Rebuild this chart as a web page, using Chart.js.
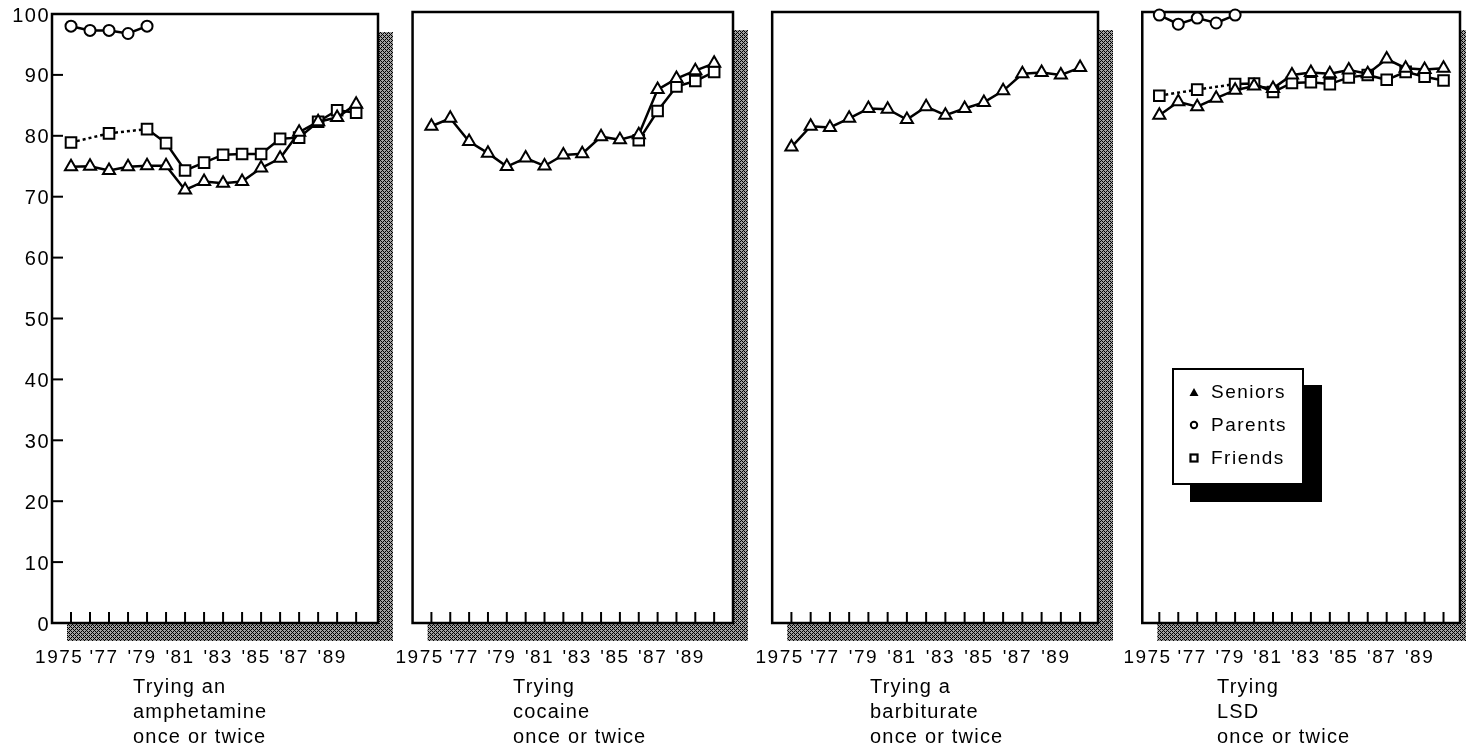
<!DOCTYPE html>
<html>
<head>
<meta charset="utf-8">
<script src="https://cdn.jsdelivr.net/npm/chart.js@4.4.1/dist/chart.umd.min.js"></script>
<style>
    body { margin: 0; background: #fff; width: 1466px; height: 750px; overflow: hidden; position: relative;
           font-family: "Liberation Sans", Arial, Helvetica, sans-serif; color: #000; }
    canvas { position: absolute; top: 0; }
    .caption { position: absolute; top: 674px; font-size: 20px; line-height: 25px; letter-spacing: 1.2px; white-space: nowrap; }
    .legend { position: absolute; left: 1172px; top: 368px; width: 128px; height: 113px; border: 2px solid #000;
              background: #fff; box-shadow: 18px 17px 0 #000; z-index: 5; }
    .legend div { position: absolute; left: 37px; font-size: 19px; letter-spacing: 1.5px; line-height: 22px; }
    .legend svg { position: absolute; left: 15px; }
</style>
</head>
<body>
<canvas id="amph" width="400" height="680" style="left:0px"></canvas>
<canvas id="coca" width="385" height="680" style="left:381px"></canvas>
<canvas id="barb" width="385" height="680" style="left:741px"></canvas>
<canvas id="lsd" width="361" height="680" style="left:1109px"></canvas>

<div class="legend">
    <svg width="10" height="10" style="top:17px"><polygon points="5,1 9.5,9 0.5,9" fill="#000"/></svg>
    <div style="top:11px">Seniors</div>
    <svg width="10" height="10" style="top:50px"><circle cx="5" cy="5" r="3.2" fill="#fff" stroke="#000" stroke-width="2"/></svg>
    <div style="top:44px">Parents</div>
    <svg width="10" height="10" style="top:83px"><rect x="1.5" y="1.5" width="7" height="7" fill="#fff" stroke="#000" stroke-width="2.2"/></svg>
    <div style="top:77px">Friends</div>
</div>

<script>
// Years on the x axis and y axis ticks
const years = [1975, 1976, 1977, 1978, 1979, 1980, 1981, 1982, 1983, 1984, 1985, 1986, 1987, 1988, 1989, 1990];
const yTicks = [0, 10, 20, 30, 40, 50, 60, 70, 80, 90, 100];

// Trying an amphetamine once or twice
const amphSeniors = [74.9, 75.0, 74.3, 74.9, 75.1, 75.1, 71.1, 72.5, 72.2, 72.5, 74.7, 76.3, 80.6, 82.3, 83.0, 85.2];
const amphParents = [98.0, 97.3, 97.3, 96.8, 98.0, null, null, null, null, null, null, null, null, null, null, null];
const amphFriends = [78.9, null, 80.4, null, 81.1, 78.8, 74.3, 75.6, 76.9, 77.0, 77.0, 79.5, 79.7, 82.3, 84.2, 83.8];

// Trying cocaine once or twice
const cocaSeniors = [81.3, 82.6, 78.8, 76.9, 74.7, 76.1, 74.8, 76.6, 76.8, 79.6, 79.1, 79.9, 87.3, 89.1, 90.4, 91.6];
const cocaFriends = [null, null, null, null, null, null, null, null, null, null, null, 79.0, 83.8, 87.8, 88.7, 90.2];

// Trying a barbiturate once or twice
const barbSeniors = [77.9, 81.3, 81.1, 82.6, 84.2, 84.1, 82.4, 84.5, 83.1, 84.2, 85.2, 87.1, 89.9, 90.1, 89.7, 90.9];

// Trying LSD once or twice
const lsdSeniors = [83.1, 85.3, 84.5, 85.9, 87.2, 87.9, 87.5, 89.7, 90.1, 89.9, 90.5, 89.9, 92.3, 90.8, 90.6, 90.8];
const lsdParents = [99.5, 98.0, 99.0, 98.2, 99.5, null, null, null, null, null, null, null, null, null, null, null];
const lsdFriends = [86.3, null, 87.3, null, 88.2, 88.3, 86.9, 88.4, 88.5, 88.2, 89.3, 89.7, 88.9, 90.2, 89.4, 88.8];

const captions = [
    ['Trying an', 'amphetamine', 'once or twice'],
    ['Trying', 'cocaine', 'once or twice'],
    ['Trying a', 'barbiturate', 'once or twice'],
    ['Trying', 'LSD', 'once or twice']
];

const FONT = '"Liberation Sans", Arial, Helvetica, sans-serif';

// Hatched shadow + frame + inward tick marks
const framePlugin = {
    id: 'frame',
    beforeDraw(chart) {
        const { ctx, chartArea: a } = chart;
        const w = a.right - a.left, h = a.bottom - a.top;

        const pc = document.createElement('canvas');
        pc.width = pc.height = 4;
        const pctx = pc.getContext('2d');
        pctx.fillStyle = '#a0a0a0';
        pctx.fillRect(0, 0, 4, 4);
        pctx.fillStyle = '#000';
        for (let x = 0; x < 4; x++) {
            for (let y = 0; y < 4; y++) {
                if ((x + y) % 4 === 0 || (x - y + 4) % 4 === 0) pctx.fillRect(x, y, 1, 1);
            }
        }

        ctx.save();
        ctx.fillStyle = ctx.createPattern(pc, 'repeat');
        ctx.fillRect(a.left + 15, a.top + 18, w, h);
        ctx.fillStyle = '#fff';
        ctx.fillRect(a.left, a.top, w, h);
        ctx.strokeStyle = '#000';
        ctx.lineWidth = 2.5;
        ctx.strokeRect(a.left, a.top, w, h);

        ctx.lineWidth = 2;
        const xs = chart.scales.x;
        years.forEach(v => {
            const px = xs.getPixelForValue(v);
            ctx.beginPath();
            ctx.moveTo(px, a.bottom);
            ctx.lineTo(px, a.bottom - 11);
            ctx.stroke();
        });

        const ys = chart.scales.y;
        if (ys.options.display) {
            yTicks.slice(1, -1).forEach(v => {
                const py = ys.getPixelForValue(v);
                ctx.beginPath();
                ctx.moveTo(a.left, py);
                ctx.lineTo(a.left + 11, py);
                ctx.stroke();
            });
        }
        ctx.restore();
        ctx.letterSpacing = '1.5px';
    }
};

function series(label, values, pointStyle, radius) {
    return {
        label: label,
        data: years.map((x, i) => ({ x: x, y: values[i] })),
        borderColor: '#000',
        borderWidth: 2.5,
        pointStyle: pointStyle,
        pointRadius: radius,
        pointBackgroundColor: '#fff',
        pointBorderColor: '#000',
        pointBorderWidth: 2,
        spanGaps: true,
        clip: false,
        segment: {
            // dotted where the line bridges a missing year
            borderDash: ctx => (values[ctx.p0DataIndex] == null ? [3, 3] : undefined)
        }
    };
}

function makeChart(id, datasets, geo) {
    new Chart(document.getElementById(id), {
        type: 'line',
        data: { datasets: datasets },
        options: {
            responsive: false,
            animation: false,
            events: [],
            layout: { padding: { top: 12, right: geo.padRight, left: geo.showY ? 0 : geo.padLeft, bottom: 0 } },
            plugins: { legend: { display: false }, tooltip: { enabled: false } },
            scales: {
                x: {
                    type: 'linear',
                    min: geo.xMin,
                    max: geo.xMax,
                    afterBuildTicks: s => { s.ticks = years.map(v => ({ value: v })); },
                    afterFit: s => { s.height = 57; },
                    grid: { display: false, drawTicks: false },
                    border: { display: false },
                    ticks: {
                        autoSkip: false,
                        maxRotation: 0,
                        padding: 23,
                        labelOffset: -5,
                        color: '#000',
                        font: { family: FONT, size: 19 },
                        callback: v => (v === 1975 ? '1975  ' : (v % 2 === 1 ? "'" + String(v).slice(2) : ''))
                    }
                },
                y: {
                    display: geo.showY,
                    min: 0,
                    max: 100,
                    afterBuildTicks: s => { s.ticks = yTicks.map(v => ({ value: v })); },
                    afterFit: s => { s.width = geo.showY ? 52 : 0; },
                    grid: { display: false, drawTicks: false },
                    border: { display: false },
                    ticks: {
                        padding: 2,
                        labelOffset: 2,
                        color: '#000',
                        font: { family: FONT, size: 20 }
                    }
                }
            }
        },
        plugins: [framePlugin]
    });
}

makeChart('amph', [
    series('Seniors', amphSeniors, 'triangle', 7),
    series('Parents', amphParents, 'circle', 5.5),
    series('Friends', amphFriends, 'rect', 7.5)
], { showY: true, padRight: 22, xMin: 1974, xMax: 1991.15 });

makeChart('coca', [
    series('Seniors', cocaSeniors, 'triangle', 7),
    series('Friends', cocaFriends, 'rect', 7.5)
], { showY: false, padLeft: 17, padRight: 33, xMin: 1974, xMax: 1991 });

makeChart('barb', [
    series('Seniors', barbSeniors, 'triangle', 7)
], { showY: false, padLeft: 17, padRight: 28, xMin: 1974, xMax: 1990.93 });

makeChart('lsd', [
    series('Seniors', lsdSeniors, 'triangle', 7),
    series('Parents', lsdParents, 'circle', 5.5),
    series('Friends', lsdFriends, 'rect', 7.5)
], { showY: false, padLeft: 17, padRight: 10, xMin: 1974.1, xMax: 1990.87 });

// Panel captions under each chart
const captionLeft = [133, 513, 870, 1217];
captions.forEach((lines, i) => {
    const div = document.createElement('div');
    div.className = 'caption';
    div.style.left = captionLeft[i] + 'px';
    div.innerHTML = lines.join('<br>');
    document.body.appendChild(div);
});
</script>
</body>
</html>
